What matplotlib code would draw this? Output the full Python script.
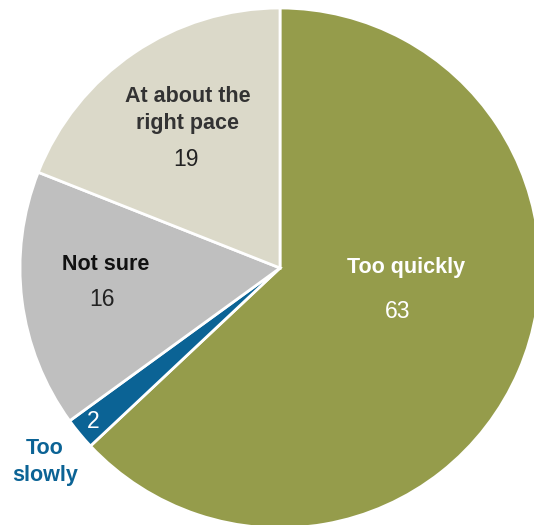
import matplotlib.pyplot as plt

labels = ["Too quickly", "Too slowly", "Not sure", "At about the\nright pace"]
values = [63, 2, 16, 19]
colors = ["#959c4b", "#0b6395", "#bfbfbf", "#dbd9c9"]

W, H = 534, 525
fig = plt.figure(figsize=(W / 100, H / 100), dpi=100)
ax = fig.add_axes([0, 0, 1, 1])

cx, cy, r = 280, H - 268, 260
ax.pie(values, colors=colors, startangle=90, counterclock=False,
       center=(cx, cy), radius=r, frame=True,
       wedgeprops=dict(edgecolor="white", linewidth=2))
ax.set_xlim(0, W)
ax.set_ylim(0, H)
ax.set_aspect("equal")
ax.axis("off")

bold = dict(family="Liberation Sans", fontweight="bold", fontsize=15.5,
            ha="center", va="center")
num = dict(family="Liberation Sans", fontsize=16.5, ha="center", va="center")

ax.text(406, H - 268, labels[0], color="white", **bold)
ax.text(398, H - 312, str(values[0]), color="white", **num)
ax.text(188, H - 110, labels[3], color="#333333", linespacing=1.4, **bold)
ax.text(186, H - 160, str(values[3]), color="#222222", **num)
ax.text(106, H - 265, labels[2], color="#111111", **bold)
ax.text(102, H - 299, str(values[2]), color="#222222", **num)
ax.text(93, H - 422, str(values[1]), color="white", **num)
ax.text(45, H - 462, "Too\nslowly", color="#0b6395", linespacing=1.4, **bold)

fig.savefig("out.png", dpi=100)
